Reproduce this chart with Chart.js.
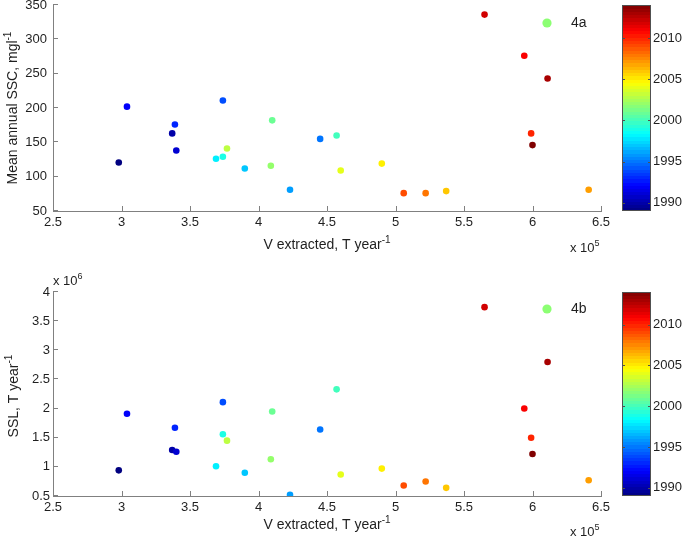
<!DOCTYPE html>
<html><head><meta charset="utf-8">
<script src="https://cdn.jsdelivr.net/npm/chart.js@4"></script>
<style>
html,body{margin:0;padding:0;background:#fff;}
#wrap{position:relative;width:685px;height:538px;overflow:hidden;}
.box{position:absolute;left:0;width:685px;height:269px;}
</style></head><body>
<div id="wrap">
<div class="box" style="top:0"><canvas id="c1"></canvas></div>
<div class="box" style="top:269px"><canvas id="c2"></canvas></div>
</div>
<script>
// ---- data ----
const years = [1989,1990,1991,1992,1993,1994,1995,1996,1997,1998,1999,2000,2001,2002,2003,2004,2005,2006,2007,2008,2009,2010,2011,2012,2013,2014];
const vExtracted = [298000,337000,340000,304000,339000,374000,445000,423000,390000,369000,374000,457000,410000,409000,377000,460000,490000,537000,641000,522000,506000,599000,594000,565000,611000,600000];
const ssc = [120.6,163,138,202,176,211,155,81,112,126,129,160,182,116,141,109,119,79,81,76,76,163,276,336,243,146];
const ssl = [940000,1290000,1260000,1910000,1670000,2110000,1640000,520000,900000,1010000,1560000,2330000,1950000,1130000,1450000,870000,970000,640000,770000,750000,680000,1500000,2000000,3740000,2800000,1220000];
const xTicks = [250000,300000,350000,400000,450000,500000,550000,600000,650000];
const sscTicks = [50,100,150,200,250,300,350];
const sslTicks = [500000,1000000,1500000,2000000,2500000,3000000,3500000,4000000];
const cbTicks = [1990,1995,2000,2005,2010];
const cbMin = 1989, cbMax = 2014;

// ---- styling ----
const FONT = "'Liberation Sans', Arial, Helvetica, sans-serif";
const TXT = '#1f1f1f';
const AXIS = '#808080';

function jet(t){
  const c=v=>Math.max(0,Math.min(1,v));
  const r=c(1.5-Math.abs(4*t-3)), g=c(1.5-Math.abs(4*t-2)), b=c(1.5-Math.abs(4*t-1));
  return `rgb(${Math.round(r*255)},${Math.round(g*255)},${Math.round(b*255)})`;
}
const colorOf = y => jet((y-cbMin)/(cbMax-cbMin));

function drawParts(ctx, parts, x, y, align, mainSize, supSize, raise){
  let w=0;
  parts.forEach(([t,s])=>{ctx.font=(s?supSize:mainSize)+'px '+FONT; w+=ctx.measureText(t).width;});
  let cx = align==='center' ? x-w/2 : x;
  parts.forEach(([t,s])=>{
    ctx.font=(s?supSize:mainSize)+'px '+FONT;
    ctx.fillText(t, cx, s? y-raise : y);
    cx += ctx.measureText(t).width;
  });
}

const deco = {
  id:'deco',
  afterDraw(chart, args, o){
    const ctx=chart.ctx, ca=chart.chartArea;
    const xs=chart.scales.x, ys=chart.scales.y, cb=chart.scales.cb;
    ctx.save();
    // inward tick marks
    ctx.strokeStyle=AXIS; ctx.lineWidth=1;
    xs.ticks.forEach(t=>{const px=Math.round(xs.getPixelForValue(t.value))+0.5;
      ctx.beginPath(); ctx.moveTo(px, ca.bottom); ctx.lineTo(px, ca.bottom-5); ctx.stroke();});
    ys.ticks.forEach(t=>{const py=Math.round(ys.getPixelForValue(t.value))-0.5;
      ctx.beginPath(); ctx.moveTo(ca.left, py); ctx.lineTo(ca.left+5, py); ctx.stroke();});
    // colorbar
    const cbL = Math.round(ca.right)+21, cbW = 29;
    const top=cb.getPixelForValue(cbMax), bot=cb.getPixelForValue(cbMin);
    const N=64;
    for(let i=0;i<N;i++){
      const y0 = bot-(bot-top)*i/N, y1 = bot-(bot-top)*(i+1)/N;
      ctx.fillStyle=jet((i+0.5)/N);
      ctx.fillRect(cbL, Math.floor(y1), cbW, Math.ceil(y0)-Math.floor(y1));
    }
    ctx.strokeStyle='#505050';
    ctx.strokeRect(cbL+0.5, Math.round(top)+0.5, cbW-1, Math.round(bot-top)-1);
    cbTicks.forEach(v=>{const py=Math.round(cb.getPixelForValue(v))+0.5;
      ctx.beginPath(); ctx.moveTo(cbL, py); ctx.lineTo(cbL+3, py);
      ctx.moveTo(cbL+cbW-3, py); ctx.lineTo(cbL+cbW, py); ctx.stroke();});
    // legend
    ctx.fillStyle=o.legendColor;
    ctx.beginPath(); ctx.arc(o.legX, o.legY, 4.6, 0, Math.PI*2); ctx.fill();
    ctx.fillStyle=TXT; ctx.font='14px '+FONT; ctx.textBaseline='middle'; ctx.textAlign='left';
    ctx.fillText(o.legText, o.legX+24, o.legY+0.5);
    // axis titles
    ctx.textBaseline='alphabetic';
    drawParts(ctx, o.xTitle, (ca.left+ca.right)/2, o.xTitleY, 'center', 14, 10, 6);
    ctx.save();
    ctx.translate(o.yTitleX, o.yTitleCY); ctx.rotate(-Math.PI/2);
    drawParts(ctx, o.yTitle, 0, 0, 'center', 14, 10, 6);
    ctx.restore();
    // exponent labels
    o.exps.forEach(e=>drawParts(ctx, [['x 10',false],[e.p,true]], e.x, e.y, 'left', 13, 9, 6));
    ctx.restore();
  }
};

function zeroPad(s){ s.paddingTop=0; s.paddingBottom=0; s.paddingLeft=0; s.paddingRight=0; }

function makeChart(id, yData, cfg){
  const pts = vExtracted.map((v,i)=>({x:v, y:yData[i]}));
  const cols = years.map(colorOf);
  return new Chart(document.getElementById(id), {
    type:'scatter',
    data:{datasets:[{data:pts, pointRadius:3.3, pointHoverRadius:3.3, borderWidth:0,
      pointBorderWidth:0, backgroundColor:cols, pointBackgroundColor:cols}]},
    options:{
      responsive:true, maintainAspectRatio:false, animation:false, devicePixelRatio:1,
      layout:{padding:{top:cfg.padTop, left:0, right:0, bottom:0}},
      plugins:{legend:{display:false}, tooltip:{enabled:false}, deco:cfg.deco},
      scales:{
        x:{type:'linear', position:'bottom', min:250000, max:650000,
          afterFit:s=>{s.height=cfg.xH; zeroPad(s);},
          afterBuildTicks:s=>{s.ticks=xTicks.map(v=>({value:v}));},
          grid:{display:false, drawTicks:false},
          border:{display:true, color:AXIS, width:1},
          ticks:{autoSkip:false, maxRotation:0, padding:4, color:TXT, font:{family:FONT,size:13},
            callback:v=>String(+(v/1e5).toFixed(1))}},
        y:{type:'linear', position:'left', min:cfg.yMin, max:cfg.yMax,
          afterFit:s=>{s.width=53; zeroPad(s);},
          afterBuildTicks:s=>{s.ticks=cfg.yTicks.map(v=>({value:v}));},
          grid:{display:false, drawTicks:false},
          border:{display:true, color:AXIS, width:1},
          ticks:{autoSkip:false, padding:cfg.yPad, color:TXT, font:{family:FONT,size:13},
            callback:cfg.yFmt}},
        cb:{type:'linear', axis:'y', position:'right', min:cbMin, max:cbMax,
          afterFit:s=>{s.width=84; zeroPad(s);},
          afterBuildTicks:s=>{s.ticks=cbTicks.map(v=>({value:v}));},
          grid:{display:false, drawTicks:false},
          border:{display:false},
          ticks:{autoSkip:false, padding:52, color:TXT, font:{family:FONT,size:13}, callback:v=>String(v)}}
      }
    },
    plugins:[deco]
  });
}

makeChart('c1', ssc, {
  padTop:5, xH:58, yMin:50, yMax:350, yTicks:sscTicks, yPad:6, yFmt:v=>String(v),
  deco:{legendColor:'#8cff73', legX:547, legY:23, legText:'4a',
    xTitle:[['V extracted, T year',false],['-1',true]], xTitleY:249,
    yTitle:[['Mean annual SSC, mgl',false],['-1',true]], yTitleX:16.5, yTitleCY:108,
    exps:[{x:570, y:252, p:'5'}]}
});
makeChart('c2', ssl, {
  padTop:23, xH:42, yMin:500000, yMax:4000000, yTicks:sslTicks, yPad:3, yFmt:v=>String(+(v/1e6).toFixed(1)),
  deco:{legendColor:'#8cff73', legX:547, legY:40, legText:'4b',
    xTitle:[['V extracted, T year',false],['-1',true]], xTitleY:260,
    yTitle:[['SSL, T year',false],['-1',true]], yTitleX:18, yTitleCY:127,
    exps:[{x:570, y:267, p:'5'},{x:53, y:16, p:'6'}]}
});
</script>
</body></html>
